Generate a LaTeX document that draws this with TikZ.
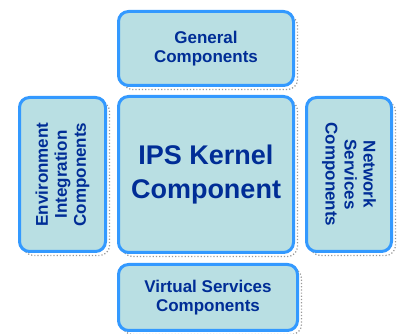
\documentclass[tikz,border=0pt]{standalone}
\usepackage{fontspec}
\setmainfont{Liberation Sans}
\usepackage{tikz}
\definecolor{boxline}{RGB}{51,153,255}
\definecolor{boxfill}{RGB}{185,223,227}
\definecolor{boxtext}{RGB}{0,45,150}
\tikzset{
  cbox/.style={draw=boxline, fill=boxfill, line width=3pt, rounded corners=10pt,
    text=boxtext, font=\bfseries\fontsize{17}{19}\selectfont, align=center, inner sep=0pt,
    preaction={draw=gray!80, dotted, line width=1.2pt, transform canvas={shift={(4pt,-4pt)}}}},
}
\begin{document}
\begin{tikzpicture}[x=1pt,y=1pt]
\useasboundingbox (0,0) rectangle (397,334);

\node[cbox, minimum width=175pt, minimum height=74pt] (general) at (206,285.5) {General\\Components};
\node[cbox, minimum width=175pt, minimum height=156pt, font=\bfseries\fontsize{27}{34}\selectfont] (kernel) at (206,159.5) {IPS Kernel\\Component};
\node[cbox, rotate=90, minimum width=154pt, minimum height=86pt] (env) at (62.5,159.5) {Environment\\Integration\\Components};
\node[cbox, rotate=-90, minimum width=154pt, minimum height=85pt] (net) at (349,159.5) {Network\\Services\\Components};
\node[cbox, minimum width=179pt, minimum height=66pt] (virtual) at (208,36.5) {Virtual Services\\Components};
\end{tikzpicture}
\end{document}
